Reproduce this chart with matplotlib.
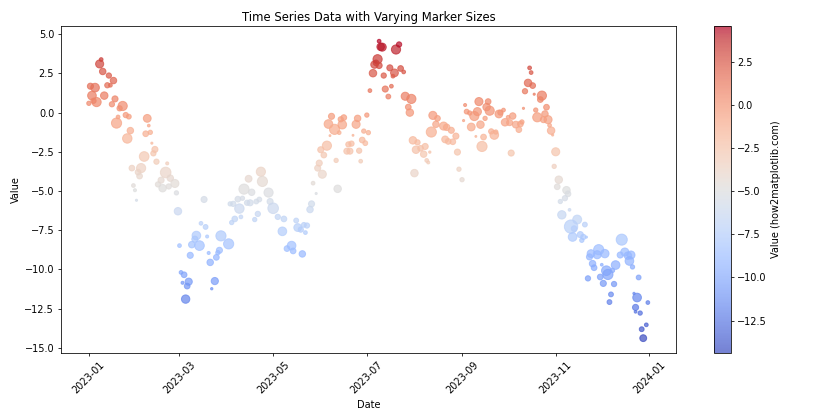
import numpy as np
import matplotlib
matplotlib.use("Agg")
import matplotlib.pyplot as plt

# day offsets from 2023-01-01, values and marker sizes
days = [8, 7, 9, 13, 16, 12, 14, 1, 4, 2, 10, 5, 0, 3, 17, 15, 22, 20, 24, 26,
        19, 18, 38, 39, 27, 25, 37, 40, 41, 43, 42, 36, 44, 51, 34, 28, 32, 33, 50, 53,
        56, 47, 45, 48, 52, 57, 29, 30, 31, 58, 75, 73, 76, 70, 69, 72, 67, 59, 66, 77,
        86, 91, 85, 84, 78, 83, 79, 60, 62, 65, 64, 61, 82, 80, 63, 93, 92,
        95, 99, 94, 97, 100, 98, 103, 105, 109, 111, 106, 101, 104, 112, 113, 117, 118, 120,
        110, 108, 123, 127, 126, 135, 136, 138, 140, 142, 141, 132, 129, 133, 139, 144, 145,
        146, 148, 152, 149, 150, 151, 155, 153, 162, 161, 158, 156, 160, 163, 165, 166, 164,
        157, 169, 171, 168, 170, 172, 174, 175, 176, 177, 178, 180, 179, 182, 181, 183, 185,
        186, 187, 188, 190, 189,
        191, 189, 192, 196, 199, 198, 203, 205, 200, 202, 193, 197, 195, 206, 210, 208, 209,
        211, 214, 219, 213, 216, 218, 220, 221, 222, 212, 224, 226, 223, 227, 231, 233, 236,
        232, 234, 237, 239, 240, 241, 243, 245, 246, 248, 244, 251, 249, 253, 254, 252, 255,
        257, 256, 258, 259, 260, 261, 262, 264, 265, 267, 268, 270, 271, 273, 274, 276, 275,
        278, 280, 281, 282, 283, 284, 286, 287, 288,
        289, 290, 295, 294, 291, 298, 297, 292, 296, 299, 300, 301, 302, 304, 303, 306, 305,
        311, 312, 310, 307, 313, 308, 318, 314, 316, 315, 320, 322, 321, 323, 324, 347, 327,
        326, 332, 331, 336, 328, 329, 334, 337, 338, 341, 343, 333, 325, 335, 342, 346, 349,
        351, 353, 352, 354, 358, 340, 339, 355, 357, 356, 356, 359, 364, 363, 360, 361]

values = [3.38, 3.10, 2.62, 2.36, 2.04, 1.74, 1.74, 1.68, 1.59, 1.08, 1.08, 0.67, 0.59, 0.75,
          0.87, 0.53, 0.42, 0.27, -0.16, -0.26, -0.28, -0.67, -0.37, -0.83, -1.15, -1.65,
          -1.35, -1.26, -1.95, -2.35, -2.60, -2.80, -3.13, -3.24, -3.54, -3.54, -3.80, -4.05,
          -3.82, -4.18, -4.52, -4.31, -4.58, -4.82, -4.71, -5.12, -4.65, -4.95, -5.59, -6.29,
          -5.54, -7.06, -7.29, -7.84, -8.07, -8.48, -8.42, -8.48, -9.10, -7.90, -7.86, -8.37,
          -8.78, -8.93, -8.95, -9.23, -9.55, -10.19, -10.34, -10.78, -11.06, -10.85, -10.74,
          -11.23, -11.89, -7.01, -5.82,
          -6.78, -6.65, -5.82, -5.52, -5.46, -6.12, -5.75, -5.75, -5.67, -5.54, -5.08, -4.88,
          -4.22, -3.77, -4.39, -5.10, -5.67, -6.10, -6.46, -6.82, -6.65, -6.78, -7.57, -6.88,
          -7.33, -7.46, -7.16, -7.20, -7.65, -8.48, -8.67, -8.82, -9.01, -6.18, -5.82, -4.50,
          -5.16, -3.93, -3.54, -3.22, -2.37, -2.11, -2.71, -4.86, -3.05, -0.24, -0.73, -1.07,
          -1.28, -0.77, -0.32, -0.43, -1.47, -2.03, -1.98, -2.46, -2.46, -1.45, -0.75, -0.37,
          -2.43, -3.10, -1.75, -1.95, -1.18, -1.28, -0.16, 1.40, 2.51, 3.06, 3.17, 3.40, 4.19,
          4.55,
          4.17, 3.00, 2.36, 2.85, 2.53, 2.32, 2.81, 2.59, 4.02, 4.34, 1.50, 1.68, 1.02, 1.04,
          0.87, 0.35, 0.00, -1.77, -1.90, -2.16, -2.37, -2.28, -2.65, -3.05, -3.18, -2.52,
          -3.86, -0.18, -0.75, -1.24, -0.37, -0.86, -0.94, -1.13, -1.71, -1.84, -1.86, -1.50,
          -2.52, -3.61, -4.28, 0.48, 0.06, -0.03, -0.51, -0.22, -0.92, 0.06, 0.70, -1.52,
          -0.77, -1.56, -2.16, -0.37, 0.35, 0.70, 0.12, -1.20, -1.43, -1.24, -0.09, 0.00,
          0.16, -0.62, -0.30, -0.64, -0.22, -2.58, -0.77, -1.09, -0.73, -0.60, 0.27, 1.36,
          1.89, 2.85, 2.55,
          1.72, 1.17, 1.08, 0.83, 0.16, 0.34, -0.09, -0.30, -0.45, -0.45, -0.81, -1.15, -1.43,
          -2.50, -3.43, -4.28, -4.73, -4.95, -5.18, -5.46, -5.67, -6.20, -6.52, -6.82, -7.27,
          -7.40, -7.93, -7.78, -7.93, -8.14, -7.14, -7.94, -8.10, -8.99, -9.20, -8.74, -9.06,
          -8.99, -9.63, -9.89, -9.70, -10.08, -10.32, -10.06, -9.72, -10.48, -10.57, -10.89,
          -10.93, -9.08, -8.89, -9.12, -9.08, -9.46, -9.84, -10.51, -11.59, -12.08, -11.53,
          -11.79, -12.42, -12.70, -12.78, -12.11, -13.53, -13.81, -14.38]

sizes = [15, 70, 45, 30, 45, 30, 15, 40, 80, 80, 60, 90, 20, 30, 40, 30, 90, 30, 30, 25,
         15, 110, 65, 8, 45, 95, 35, 20, 5, 40, 30, 100, 30, 10, 90, 35, 35, 35, 120, 45,
         70, 40, 30, 60, 30, 20, 15, 10, 5, 60, 40, 15, 25, 80, 40, 100, 45, 15, 40, 10,
         110, 110, 40, 20, 10, 35, 45, 15, 35, 55, 35, 10, 55, 6, 75, 20, 20,
         35, 15, 30, 35, 20, 95, 30, 40, 25, 25, 45, 110, 50, 90, 110, 90, 40, 120,
         30, 20, 30, 35, 80, 25, 65, 30, 25, 30, 15, 80, 35, 35, 45, 45, 40,
         15, 5, 70, 40, 40, 40, 90, 35, 60, 20, 40, 80, 110, 15, 80, 35, 30,
         4, 30, 30, 40, 40, 4, 70, 45, 30, 15, 35, 25, 20, 20, 20, 15, 60,
         60, 35, 90, 60, 15,
         70, 40, 30, 40, 65, 15, 35, 15, 90, 30, 40, 15, 25, 70, 90, 35, 60,
         60, 30, 40, 60, 35, 45, 15, 10, 6, 60, 70, 45, 110, 35, 70, 45, 40,
         50, 35, 35, 40, 40, 20, 20, 10, 25, 20, 5, 90, 65, 70, 70, 4, 60,
         35, 110, 20, 60, 35, 90, 30, 80, 20, 65, 30, 15, 60, 15, 40, 45, 40,
         50, 35, 35, 20, 5, 30, 60, 15, 15,
         35, 5, 90, 35, 20, 35, 45, 90, 40, 70, 15, 60, 5, 70, 20, 60, 35,
         60, 35, 30, 20, 8, 75, 85, 190, 35, 80, 40, 30, 20, 25, 5, 130, 65,
         40, 110, 70, 75, 45, 35, 8, 100, 110, 20, 80, 35, 30, 40, 30, 40, 70,
         60, 70, 80, 20, 25, 25, 25, 6, 80, 40, 8, 20, 15, 15, 25, 50]

dates = np.datetime64("2023-01-01") + np.array(days).astype("timedelta64[D]")

fig = plt.figure(figsize=(12, 6), dpi=70)
sc = plt.scatter(dates, values, s=sizes, c=values, cmap="coolwarm", alpha=0.7)
plt.colorbar(sc, label="Value (how2matplotlib.com)")
plt.title("Time Series Data with Varying Marker Sizes")
plt.xlabel("Date")
plt.ylabel("Value")
plt.xticks(rotation=45)
plt.tight_layout()
plt.savefig("out.png", dpi=70)
